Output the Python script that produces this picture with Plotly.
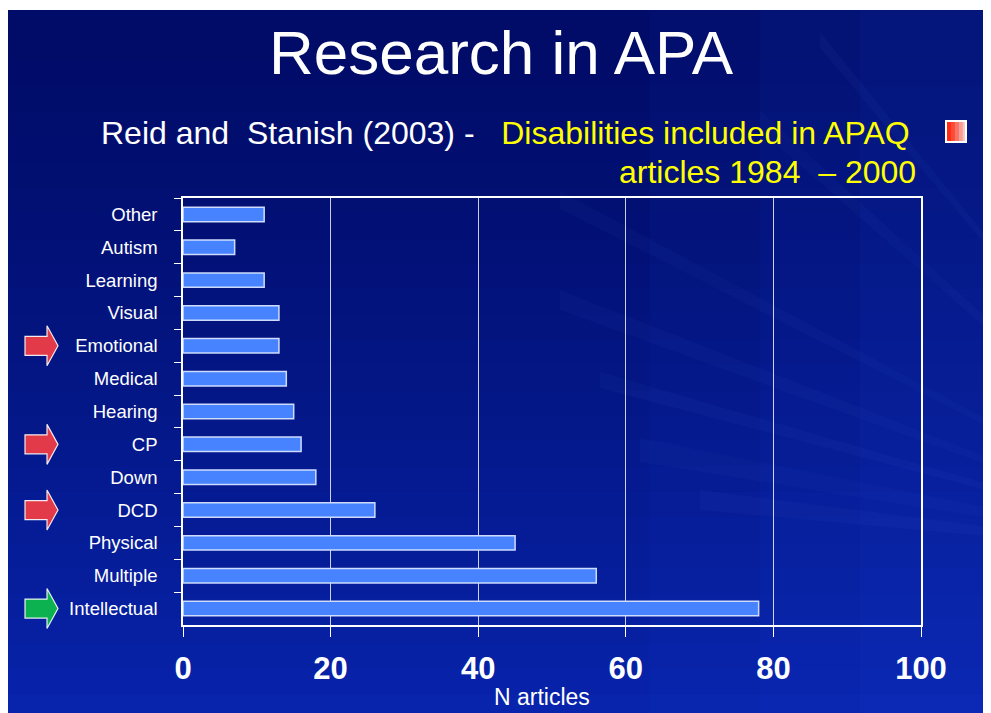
import plotly.graph_objects as go

# ---- data ----
categories = ["Other", "Autism", "Learning", "Visual", "Emotional", "Medical", "Hearing",
              "CP", "Down", "DCD", "Physical", "Multiple", "Intellectual"]
n_articles = [11, 7, 11, 13, 13, 14, 15, 16, 18, 26, 45, 56, 78]
x_ticks = [0, 20, 40, 60, 80, 100]
arrow_red = ["Emotional", "CP", "DCD"]
arrow_green = ["Intellectual"]

title_text = "Research in APA"
sub_white = "Reid and  Stanish (2003) -   "
sub_yellow_1 = "Disabilities included in APAQ"
sub_yellow_2 = "articles 1984  \u2013 2000"
x_title = "N articles"

# ---- geometry (screen pixels; page body has an 8px margin) ----
OFF = 8
W, H = 991 - OFF, 713 - OFF
Ls, Rs, Ts, Bs = 183, 921, 198, 625


def px(x):
    return (x - Ls) / (Rs - Ls)


def py(y):
    return (Bs - y) / (Bs - Ts)


shapes = []
# blue slide
shapes.append(dict(type="rect", xref="paper", yref="paper", x0=px(8), x1=px(1010),
                   y0=py(10), y1=py(730), fillcolor="#061a92", line=dict(width=0), layer="below"))
nb = 28
c0 = (1, 12, 104)
c1 = (8, 36, 172)
for i in range(nb):
    t = i / (nb - 1)
    col = tuple(int(c0[k] + (c1[k] - c0[k]) * t ** 1.3) for k in range(3))
    y0 = 10 + (720 - 10) * i / nb
    y1 = 10 + (720 - 10) * (i + 1) / nb + 1
    shapes.append(dict(type="rect", xref="paper", yref="paper", x0=px(8), x1=px(1010),
                       y0=py(y0), y1=py(y1), fillcolor="rgb(%d,%d,%d)" % col,
                       line=dict(width=0), layer="below"))
for xa, op in [(650, 0.05), (760, 0.06), (860, 0.07)]:
    shapes.append(dict(type="rect", xref="paper", yref="paper", x0=px(xa), x1=px(1010),
                       y0=py(10), y1=py(730), fillcolor="rgba(30,70,230,%.2f)" % op,
                       line=dict(width=0), layer="below"))
# subtle light rays from the right
fx, fy = 1250, 560
rays = [(560, 300, 10, 0.035), (600, 380, 8, 0.04), (640, 450, 12, 0.035),
        (700, 500, 10, 0.04), (560, 200, 9, 0.03), (760, 120, 10, 0.035), (820, 40, 8, 0.04)]
for x_end, ey, wdt, op in rays:
    path = "M %f,%f L %f,%f L %f,%f Z" % (px(fx), py(fy), px(x_end), py(ey - wdt),
                                           px(x_end), py(ey + wdt))
    shapes.append(dict(type="path", xref="paper", yref="paper", path=path,
                       fillcolor="rgba(120,150,255,%.3f)" % op, line=dict(width=0), layer="below"))

# arrows next to category labels
n = len(categories)
step = (Bs - Ts) / n


def arrow_path(cy):
    pts = [(25, cy - 9.5), (47, cy - 9.5), (47, cy - 20), (58, cy), (47, cy + 20),
           (47, cy + 9.5), (25, cy + 9.5)]
    return "M " + " L ".join("%f,%f" % (px(a), py(b)) for a, b in pts) + " Z"


for name in arrow_red + arrow_green:
    idx = categories.index(name)
    cy = Ts + (idx + 0.5) * step
    color = "#e23a48" if name in arrow_red else "#0bb24f"
    shapes.append(dict(type="path", xref="paper", yref="paper", path=arrow_path(cy),
                       fillcolor=color, line=dict(color="rgba(255,255,255,0.9)", width=1.2)))

# bullet square (gradient approximation)
sq_cols = ["#ff2a14", "#ff4a34", "#ff7260", "#ff9a8e", "#ffc4bc"]
for i, c in enumerate(sq_cols):
    shapes.append(dict(type="rect", xref="paper", yref="paper",
                       x0=px(947 + i * 3.8), x1=px(947 + (i + 1) * 3.8 + 0.3),
                       y0=py(122), y1=py(141), fillcolor=c, line=dict(width=0)))
shapes.append(dict(type="rect", xref="paper", yref="paper", x0=px(946), x1=px(966),
                   y0=py(121), y1=py(142), fillcolor="rgba(0,0,0,0)",
                   line=dict(color="white", width=2)))

fig = go.Figure()
fig.add_trace(go.Bar(
    x=n_articles, y=categories, orientation="h", width=0.44,
    marker=dict(color="#4782ff", line=dict(color="rgba(215,228,255,0.95)", width=1.5)),
    hoverinfo="x+y",
))

annotations = [
    dict(text=title_text, x=px(501), y=py(52), xref="paper", yref="paper", showarrow=False,
         font=dict(family="Liberation Sans, Arial", size=62, color="white"),
         xanchor="center", yanchor="middle"),
    dict(text=sub_white + "<span style='color:#ffff00'>" + sub_yellow_1 + "</span>",
         x=px(99), y=py(133), xref="paper", yref="paper", showarrow=False,
         font=dict(family="Liberation Sans, Arial", size=32, color="white"),
         xanchor="left", yanchor="middle"),
    dict(text=sub_yellow_2, x=px(918), y=py(172), xref="paper", yref="paper", showarrow=False,
         font=dict(family="Liberation Sans, Arial", size=32, color="#ffff00"),
         xanchor="right", yanchor="middle"),
    dict(text=x_title, x=px(542), y=py(697), xref="paper", yref="paper", showarrow=False,
         font=dict(family="Liberation Sans, Arial", size=23, color="white"),
         xanchor="center", yanchor="middle"),
]

fig.update_layout(
    width=W, height=H,
    margin=dict(l=Ls - OFF, r=W - (Rs - OFF), t=Ts - OFF, b=H - (Bs - OFF), pad=0),
    paper_bgcolor="white",
    plot_bgcolor="rgba(0,0,0,0)",
    showlegend=False,
    shapes=shapes,
    annotations=annotations,
    xaxis=dict(
        range=[0, 100], tickvals=x_ticks, ticktext=[str(v) for v in x_ticks],
        showgrid=True, gridcolor="rgba(255,255,255,0.8)", gridwidth=1,
        showline=True, linecolor="white", linewidth=1.5, mirror=True,
        ticks="outside", ticklen=10, tickcolor="white", tickwidth=1,
        tickfont=dict(family="Liberation Sans Narrow, Arial Narrow, Liberation Sans",
                      size=31, color="white", weight="bold"),
        ticklabelstandoff=5, zeroline=False, fixedrange=True,
    ),
    yaxis=dict(
        type="category", autorange="reversed",
        showgrid=False, showline=True, linecolor="white", linewidth=1.5, mirror=True,
        ticks="outside", tickson="boundaries", ticklen=7, tickcolor="white",
        tickfont=dict(family="Liberation Sans, Arial", size=18.5, color="white"),
        ticklabelstandoff=20, fixedrange=True,
    ),
)

fig.write_html("out.html")
